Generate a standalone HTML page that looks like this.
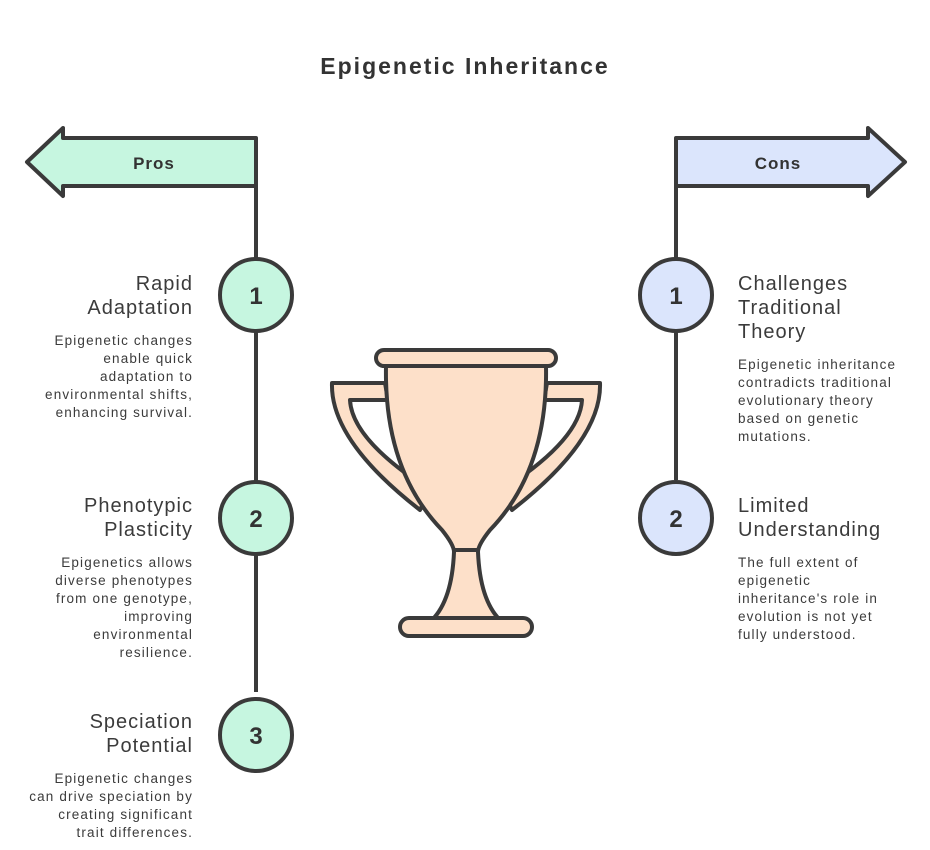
<!DOCTYPE html>
<html><head><style>
body{margin:0;background:#fff;}
svg{display:block;font-family:"Liberation Sans",sans-serif;}
.t{font-size:20px;fill:#3b3b3b;letter-spacing:1px;}
.d{font-size:13.5px;fill:#3b3b3b;letter-spacing:1.15px;}
.n{font-size:24px;font-weight:bold;fill:#333;text-anchor:middle;}
</style></head><body>
<svg width="930" height="850" viewBox="0 0 930 850">
<text x="465" y="74" text-anchor="middle" font-size="23" font-weight="bold" fill="#333" letter-spacing="2">Epigenetic Inheritance</text>
<g stroke="#3a3a3a" stroke-width="4" stroke-linejoin="round" fill="none">
<path d="M256 138 H63 V128 L27 162 L63 196 V186 H256 Z" fill="#c6f6e0"/>
<path d="M676 138 H868 V128 L905 162 L868 196 V186 H676 Z" fill="#dbe5fc"/>
<line x1="256" y1="138" x2="256" y2="692"/>
<line x1="676" y1="138" x2="676" y2="480"/>
<circle cx="256" cy="295" r="36" fill="#c6f6e0"/>
<circle cx="256" cy="518" r="36" fill="#c6f6e0"/>
<circle cx="256" cy="735" r="36" fill="#c6f6e0"/>
<circle cx="676" cy="295" r="36" fill="#dbe5fc"/>
<circle cx="676" cy="518" r="36" fill="#dbe5fc"/>
<path d="M385 383 H332 Q330 440 420 510 L430 490 Q352 440 350 400 H388 Z" fill="#fde0c9"/>
<path d="M547 383 H600 Q602 440 512 510 L502 490 Q580 440 582 400 H544 Z" fill="#fde0c9"/>
<path d="M386 366 H546 Q548 470 490 530 Q478 545 478 552 Q480 600 500 620 H432 Q452 600 454 552 Q454 545 442 530 Q384 470 386 366 Z" fill="#fde0c9"/>
<rect x="376" y="350" width="180" height="16" rx="8" fill="#fde0c9"/>
<line x1="454" y1="550" x2="478" y2="550"/>
<rect x="400" y="618" width="132" height="18" rx="9" fill="#fde0c9"/>
</g>
<text x="154" y="169" text-anchor="middle" font-size="17" font-weight="bold" fill="#333" letter-spacing="1">Pros</text>
<text x="778" y="169" text-anchor="middle" font-size="17" font-weight="bold" fill="#333" letter-spacing="1">Cons</text>
<text class="n" x="256" y="304">1</text><text class="n" x="256" y="527">2</text><text class="n" x="256" y="744">3</text>
<text class="n" x="676" y="304">1</text><text class="n" x="676" y="527">2</text>
<g text-anchor="end">
<text class="t" x="193" y="290">Rapid</text><text class="t" x="193" y="314">Adaptation</text>
<text class="d"><tspan x="193" y="345">Epigenetic changes</tspan><tspan x="193" y="363">enable quick</tspan><tspan x="193" y="381">adaptation to</tspan><tspan x="193" y="399">environmental shifts,</tspan><tspan x="193" y="417">enhancing survival.</tspan></text>
<text class="t" x="193" y="512">Phenotypic</text><text class="t" x="193" y="536">Plasticity</text>
<text class="d"><tspan x="193" y="567">Epigenetics allows</tspan><tspan x="193" y="585">diverse phenotypes</tspan><tspan x="193" y="603">from one genotype,</tspan><tspan x="193" y="621">improving</tspan><tspan x="193" y="639">environmental</tspan><tspan x="193" y="657">resilience.</tspan></text>
<text class="t" x="193" y="728">Speciation</text><text class="t" x="193" y="752">Potential</text>
<text class="d"><tspan x="193" y="783">Epigenetic changes</tspan><tspan x="193" y="801">can drive speciation by</tspan><tspan x="193" y="819">creating significant</tspan><tspan x="193" y="837">trait differences.</tspan></text>
</g>
<text class="t" x="738" y="290">Challenges</text><text class="t" x="738" y="314">Traditional</text><text class="t" x="738" y="338">Theory</text>
<text class="d"><tspan x="738" y="369">Epigenetic inheritance</tspan><tspan x="738" y="387">contradicts traditional</tspan><tspan x="738" y="405">evolutionary theory</tspan><tspan x="738" y="423">based on genetic</tspan><tspan x="738" y="441">mutations.</tspan></text>
<text class="t" x="738" y="512">Limited</text><text class="t" x="738" y="536">Understanding</text>
<text class="d"><tspan x="738" y="567">The full extent of</tspan><tspan x="738" y="585">epigenetic</tspan><tspan x="738" y="603">inheritance's role in</tspan><tspan x="738" y="621">evolution is not yet</tspan><tspan x="738" y="639">fully understood.</tspan></text>
</svg>
</body></html>
